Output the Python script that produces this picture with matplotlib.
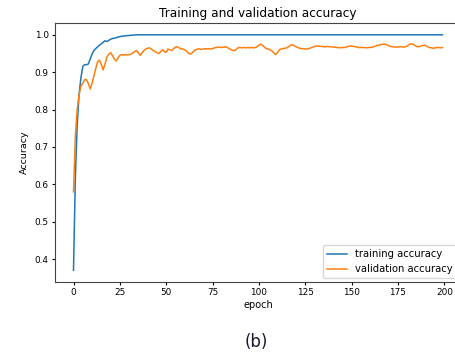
import matplotlib.pyplot as plt

# training / validation accuracy per epoch
train_acc = [
    0.37, 0.62, 0.76, 0.84, 0.885, 0.915, 0.92, 0.92, 0.922, 0.935,
    0.948, 0.958, 0.963, 0.968, 0.972, 0.976, 0.98, 0.984, 0.982, 0.985,
    0.988, 0.99, 0.991, 0.992, 0.994, 0.995, 0.996, 0.997, 0.997, 0.998,
    0.998, 0.999, 0.999, 0.9995, 1.0, 1.0, 1.0, 1.0, 1.0, 1.0,
    1.0, 1.0, 1.0, 1.0, 1.0, 1.0, 1.0, 1.0, 1.0, 1.0,
    1.0, 1.0, 1.0, 1.0, 1.0, 1.0, 1.0, 1.0, 1.0, 1.0,
    1.0, 1.0, 1.0, 1.0, 1.0, 1.0, 1.0, 1.0, 1.0, 1.0,
    1.0, 1.0, 1.0, 1.0, 1.0, 1.0, 1.0, 1.0, 1.0, 1.0,
    1.0, 1.0, 1.0, 1.0, 1.0, 1.0, 1.0, 1.0, 1.0, 1.0,
    1.0, 1.0, 1.0, 1.0, 1.0, 1.0, 1.0, 1.0, 1.0, 1.0,
    1.0, 1.0, 1.0, 1.0, 1.0, 1.0, 1.0, 1.0, 1.0, 1.0,
    1.0, 1.0, 1.0, 1.0, 1.0, 1.0, 1.0, 1.0, 1.0, 1.0,
    1.0, 1.0, 1.0, 1.0, 1.0, 1.0, 1.0, 1.0, 1.0, 1.0,
    1.0, 1.0, 1.0, 1.0, 1.0, 1.0, 1.0, 1.0, 1.0, 1.0,
    1.0, 1.0, 1.0, 1.0, 1.0, 1.0, 1.0, 1.0, 1.0, 1.0,
    1.0, 1.0, 1.0, 1.0, 1.0, 1.0, 1.0, 1.0, 1.0, 1.0,
    1.0, 1.0, 1.0, 1.0, 1.0, 1.0, 1.0, 1.0, 1.0, 1.0,
    1.0, 1.0, 1.0, 1.0, 1.0, 1.0, 1.0, 1.0, 1.0, 1.0,
    1.0, 1.0, 1.0, 1.0, 1.0, 1.0, 1.0, 1.0, 1.0, 1.0,
    1.0, 1.0, 1.0, 1.0, 1.0, 1.0, 1.0, 1.0, 1.0, 1.0,
]
val_acc = [
    0.58, 0.73, 0.80, 0.84, 0.862, 0.87, 0.88, 0.88, 0.87, 0.855,
    0.87, 0.89, 0.91, 0.928, 0.932, 0.92, 0.906, 0.922, 0.94, 0.948,
    0.952, 0.945, 0.935, 0.93, 0.938, 0.945, 0.947, 0.946, 0.947, 0.946,
    0.947, 0.948, 0.952, 0.955, 0.958, 0.952, 0.945, 0.952, 0.958, 0.962,
    0.964, 0.965, 0.962, 0.958, 0.955, 0.952, 0.95, 0.955, 0.96, 0.955,
    0.953, 0.962, 0.96, 0.958, 0.963, 0.967, 0.968, 0.965, 0.962, 0.962,
    0.96, 0.956, 0.951, 0.948, 0.952, 0.957, 0.96, 0.962, 0.962, 0.961,
    0.962, 0.963, 0.962, 0.963, 0.962, 0.963, 0.965, 0.966, 0.967, 0.967,
    0.966, 0.967, 0.968, 0.966, 0.963, 0.96, 0.958, 0.958, 0.962, 0.966,
    0.966, 0.965, 0.966, 0.965, 0.966, 0.965, 0.966, 0.965, 0.966, 0.968,
    0.972, 0.975, 0.972, 0.967, 0.963, 0.962, 0.96, 0.957, 0.952, 0.947,
    0.952, 0.96, 0.962, 0.963, 0.964, 0.965, 0.968, 0.972, 0.973, 0.971,
    0.968, 0.966, 0.964, 0.963, 0.963, 0.962, 0.962, 0.963, 0.965, 0.967,
    0.969, 0.97, 0.97, 0.969, 0.969, 0.968, 0.968, 0.969, 0.968, 0.968,
    0.967, 0.967, 0.966, 0.966, 0.965, 0.966, 0.966, 0.967, 0.969, 0.97,
    0.97, 0.969, 0.968, 0.967, 0.966, 0.966, 0.966, 0.966, 0.965, 0.966,
    0.966, 0.967, 0.968, 0.97, 0.972, 0.973, 0.974, 0.975, 0.975, 0.973,
    0.971, 0.969, 0.968, 0.968, 0.967, 0.967, 0.968, 0.968, 0.967, 0.968,
    0.97, 0.974, 0.976, 0.975, 0.972, 0.969, 0.968, 0.969, 0.971, 0.972,
    0.971, 0.968, 0.966, 0.965, 0.964, 0.965, 0.966, 0.966, 0.965, 0.966,
]
epochs = list(range(len(train_acc)))

fig = plt.figure(figsize=(4.55, 3.57), dpi=100)
# axes run slightly past the right edge, as in the cropped reference
ax = fig.add_axes([0.121, 0.21, 0.892, 0.7255])

ax.plot(epochs, train_acc, color='#1f77b4', lw=1.1, label='training accuracy')
ax.plot(epochs, val_acc, color='#ff7f0e', lw=1.1, label='validation accuracy')

ax.set_title('Training and validation accuracy', fontsize=8.7, pad=4)
ax.set_xlabel('epoch', fontsize=7, labelpad=2)
ax.set_ylabel('Accuracy', fontsize=6.8, labelpad=4)
ax.set_xticks([0, 25, 50, 75, 100, 125, 150, 175, 200])
ax.tick_params(labelsize=6.4, length=2.5, pad=2)
for s in ax.spines.values():
    s.set_color('#444444')
ax.legend(loc='lower right', fontsize=7.2, borderaxespad=0.4)

fig.text(0.563, 0.043, '(b)', fontsize=12, ha='center', va='center',
         color='#1a1a2e')

fig.savefig('out.png', dpi=100)
